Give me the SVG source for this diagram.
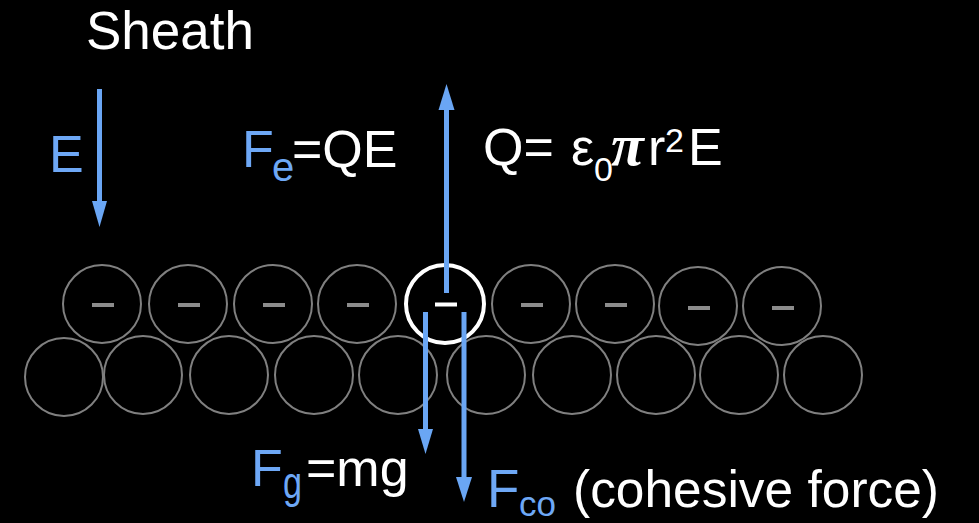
<svg xmlns="http://www.w3.org/2000/svg" width="979" height="523" viewBox="0 0 979 523">
<style>
.g{fill:none;stroke:#808080;stroke-width:2}
.w{fill:none;stroke:#ffffff;stroke-width:4}
.m{fill:#8c8c8c}
.ln{stroke:#6aa6f4;stroke-width:5;fill:none}
.hd{fill:#6aa6f4}
text{font-family:"Liberation Sans",Arial,sans-serif;font-size:52px;fill:#ffffff}
.b{fill:#6ea8f6}
</style>
<rect width="979" height="523" fill="#000000"/>
<g id="bottom-row">
<circle class="g" cx="64" cy="377" r="39"/>
<circle class="g" cx="143" cy="375" r="39"/>
<circle class="g" cx="229" cy="375" r="39"/>
<circle class="g" cx="314" cy="375" r="39"/>
<circle class="g" cx="398" cy="375" r="39"/>
<circle class="g" cx="486" cy="375" r="39"/>
<circle class="g" cx="572" cy="375" r="39"/>
<circle class="g" cx="656" cy="375" r="39"/>
<circle class="g" cx="739" cy="375" r="39"/>
<circle class="g" cx="823" cy="375" r="39"/>
</g>
<g id="top-row">
<g id="p1"><circle class="g" cx="102" cy="304" r="39"/><rect class="m" x="92" y="303" width="22" height="4"/></g>
<g id="p2"><circle class="g" cx="188" cy="304" r="39"/><rect class="m" x="178" y="303" width="22" height="4"/></g>
<g id="p3"><circle class="g" cx="273" cy="304" r="39"/><rect class="m" x="263" y="303" width="22" height="4"/></g>
<g id="p4"><circle class="g" cx="357" cy="304" r="39"/><rect class="m" x="347" y="303" width="22" height="4"/></g>
<g id="p6"><circle class="g" cx="531" cy="304" r="39"/><rect class="m" x="521" y="303" width="22" height="4"/></g>
<g id="p7"><circle class="g" cx="615" cy="304" r="39"/><rect class="m" x="605" y="303" width="22" height="4"/></g>
<g id="p8"><circle class="g" cx="698" cy="306" r="39"/><rect class="m" x="688" y="306" width="22" height="4"/></g>
<g id="p9"><circle class="g" cx="782" cy="306" r="39"/><rect class="m" x="772" y="306" width="22" height="4"/></g>
</g>
<g id="charged-particle"><circle class="w" cx="445" cy="304" r="39"/><rect x="435" y="302.5" width="22" height="4" fill="#ffffff"/></g>
<g id="connectors">
<line class="ln" x1="99.5" y1="89" x2="99.5" y2="203"/>
<polygon class="hd" points="92,201 107,201 99.5,227"/>
<line class="ln" x1="446.5" y1="293" x2="446.5" y2="108"/>
<polygon class="hd" points="438.5,110 454.5,110 446.5,84"/>
<line class="ln" x1="425.5" y1="312" x2="425.5" y2="431"/>
<polygon class="hd" points="418,429 433,429 425.5,454"/>
<line class="ln" x1="464" y1="312" x2="464" y2="479"/>
<polygon class="hd" points="456,477 472,477 464,502"/>
</g>
<g id="labels">
<text x="86" y="49" style="font-size:53px">Sheath</text>
<text class="b" x="49" y="172">E</text>
<text class="b" x="242" y="167">F</text>
<text class="b" x="272" y="181" style="font-size:40px">e</text>
<text x="292" y="167">=QE</text>
<text x="483" y="165">Q=</text>
<text x="571" y="165">ε</text>
<text x="594" y="181" style="font-size:34px">0</text>
<text x="611" y="165" style="font-family:'Liberation Serif','Times New Roman',serif;font-weight:bold;font-style:italic;font-size:60px">π</text>
<text x="648" y="165">r</text>
<text x="665" y="152" style="font-size:34px">2</text>
<text x="688" y="165">E</text>
<text class="b" x="251" y="486">F</text>
<text class="b" x="283" y="498" style="font-size:44px" textLength="19" lengthAdjust="spacingAndGlyphs">g</text>
<text x="306" y="486">=mg</text>
<text class="b" x="487" y="507" style="font-size:53px">F</text>
<text class="b" x="519" y="516" style="font-size:35px">co</text>
<text x="573" y="507" textLength="366" lengthAdjust="spacingAndGlyphs">(cohesive force)</text>
</g>
</svg>
